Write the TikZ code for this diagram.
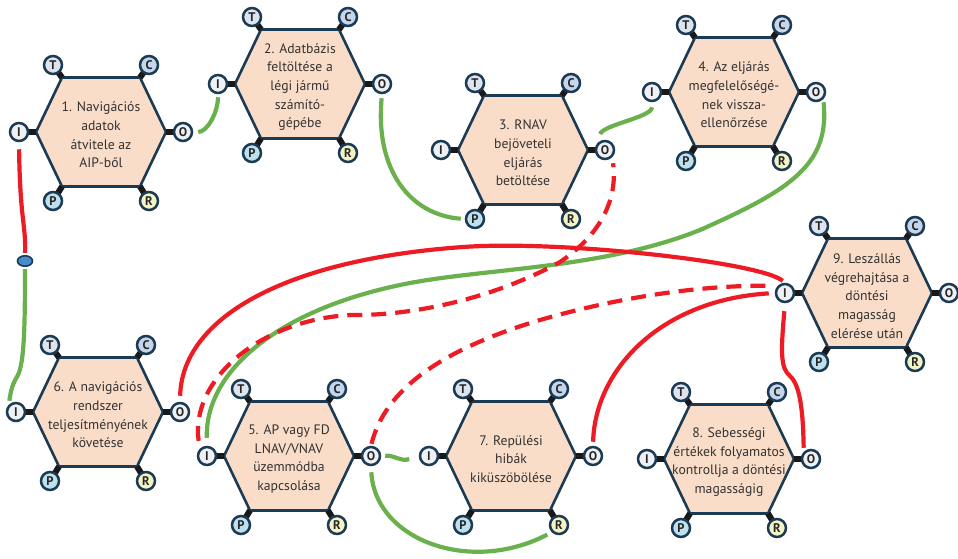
\documentclass[tikz,border=0pt]{standalone}
\usepackage{fontspec}
\setmainfont{PT Sans}
\usetikzlibrary{shapes.geometric}
\definecolor{hexfill}{RGB}{250,221,200}
\definecolor{hexline}{RGB}{27,58,84}
\definecolor{iofill}{RGB}{238,240,244}
\definecolor{tfill}{RGB}{222,228,238}
\definecolor{cfill}{RGB}{196,213,236}
\definecolor{pfill}{RGB}{190,224,236}
\definecolor{rfill}{RGB}{243,243,197}
\definecolor{flowgreen}{RGB}{106,176,76}
\definecolor{flowred}{RGB}{237,28,36}
\definecolor{dotblue}{RGB}{68,140,204}
\definecolor{textgray}{RGB}{50,50,50}

% one activity: name, x, y, text
\newcommand{\activity}[4]{%
  \begin{scope}[shift={(#2,#3)}]
    \draw[hexagon] (-65,0) -- (-39,-54.5) -- (39,-54.5) -- (65,0) -- (39,54.5) -- (-39,54.5) -- cycle;
    \node[stepname] (#1) at (0,3) {#4};
    \draw[stub] (-65,0) -- (-82,0);
    \draw[stub] (65,0) -- (82,0);
    \draw[stub] (-39,-54.5) -- (-48,-67);
    \draw[stub] (39,-54.5) -- (48,-67);
    \draw[stub] (-39,54.5) -- (-48,69);
    \draw[stub] (39,54.5) -- (48,69);
    \node[port, fill=iofill] (#1-I) at (-82,0) {I};
    \node[port, fill=iofill] (#1-O) at (82,0) {O};
    \node[port, fill=tfill] (#1-T) at (-48,-67) {T};
    \node[port, fill=cfill] (#1-C) at (48,-67) {C};
    \node[port, fill=pfill] (#1-P) at (-48,69) {P};
    \node[port, fill=rfill] (#1-R) at (48,69) {R};
  \end{scope}}

\begin{document}
\begin{tikzpicture}[
    x=1pt, y=-1pt,
    hexagon/.style={fill=hexfill, draw=hexline, line width=2.6pt, line join=miter},
    stepname/.style={align=center, inner sep=0pt, text=textgray, font=\fontsize{13.7}{18.6}\selectfont},
    stub/.style={draw=black!90, line width=6pt},
    port/.style={circle, draw=hexline, line width=2.5pt, minimum size=18pt, inner sep=0pt,
                 text=black!85, font=\fontsize{12.5}{13}\selectfont\bfseries},
    greenline/.style={draw=flowgreen, line width=4.2pt},
    redline/.style={draw=flowred, line width=4.2pt},
    reddash/.style={redline, dash pattern=on 15pt off 9pt}
]
    \useasboundingbox (0,0) rectangle (958,558);

    % activities
    \activity{n1}{101}{132}{1. Navigációs\\adatok\\átvitele az\\AIP-ből}
    \activity{n2}{300}{84}{2. Adatbázis\\feltöltése a\\légi jármű\\számító-\\gépébe}
    \activity{n3}{523}{150}{3. RNAV\\bejöveteli\\eljárás\\betöltése}
    \activity{n4}{734}{92}{4. Az eljárás\\megfelelőségé-\\nek vissza-\\ellenőrzése}
    \activity{n5}{289}{456}{5. AP vagy FD\\LNAV/VNAV\\üzemmódba\\kapcsolása}
    \activity{n6}{98}{412}{6. A navigációs\\rendszer\\teljesítményének\\követése}
    \activity{n7}{511}{456}{7. Repülési\\hibák\\kiküszöbölése}
    \activity{n8}{729}{459}{8. Sebességi\\értékek folyamatos\\kontrollja a döntési\\magasságig}
    \activity{n9}{867}{293}{9. Leszállás\\végrehajtása a\\döntési\\magasság\\elérése után}

    % junction between 1 and 6
    \node[ellipse, draw=hexline, line width=1.6pt, fill=dotblue, minimum width=15pt,
          minimum height=10.5pt, inner sep=0pt] (dot) at (25,261) {};

    % green couplings
    \draw[greenline, shorten <=5pt, shorten >=3pt] (n1-O.east) .. controls +(14,0) and +(0,18) .. (n2-I.south);
    \draw[greenline, shorten <=4pt, shorten >=4pt] (n2-O.south) .. controls (375,170) and (410,215) .. (n3-P.west);
    \draw[greenline, shorten <=9pt, shorten >=5pt] (n3-O.north west) .. controls +(5,-18) and +(0,15) .. (n4-I.south);
    \draw[greenline, shorten <=3pt, shorten >=8pt] (n4-O.south east) .. controls (830,165) and (790,190) .. (700,230)
        .. controls (600,270) and (480,268) .. (400,285)
        .. controls (280,310) and (205,370) .. (n5-I.north);
    \draw[greenline, shorten <=2pt, shorten >=4pt] (dot.south) .. controls (25,330) and (24,362) .. (18,375)
        .. controls (12,385) and (11,390) .. (n6-I.north west);
    \draw[greenline, shorten <=4pt, shorten >=10pt] (n5-O.east) .. controls (395,455) and (400,462) .. (n7-I.west);
    \draw[greenline, shorten <=6pt, shorten >=5pt] (n5-O.south) .. controls (375,540) and (470,575) .. (n7-R.south west);

    % red couplings
    \draw[redline, shorten <=7pt, shorten >=2pt] (n1-I.south) .. controls (20,220) and (26,225) .. (dot.north);
    \draw[redline, shorten <=6pt, shorten >=3pt] (n6-O.north) .. controls (182,320) and (280,260) .. (463,247)
        .. controls (560,240) and (760,262) .. (n9-I.north);
    \draw[redline, shorten <=4pt, shorten >=6pt] (n7-O.north) .. controls (595,370) and (660,300) .. (n9-I.west);
    \draw[redline, shorten <=8pt, shorten >=4pt] (n9-I.south) .. controls (781,350) and (780,368) .. (790,376)
        .. controls (800,385) and (803,410) .. (n8-O.north west);
    \draw[reddash, shorten <=8pt, shorten >=6pt] (n5-I.north west) .. controls (190,380) and (260,320) .. (350,315)
        .. controls (420,316) and (500,295) .. (560,262)
        .. controls (600,235) and (618,200) .. (n3-O.south east);
    \draw[reddash, shorten <=2pt, shorten >=6pt] (n5-O.north) .. controls (385,390) and (440,350) .. (540,320)
        .. controls (620,297) and (700,285) .. (n9-I.north west);
\end{tikzpicture}
\end{document}
